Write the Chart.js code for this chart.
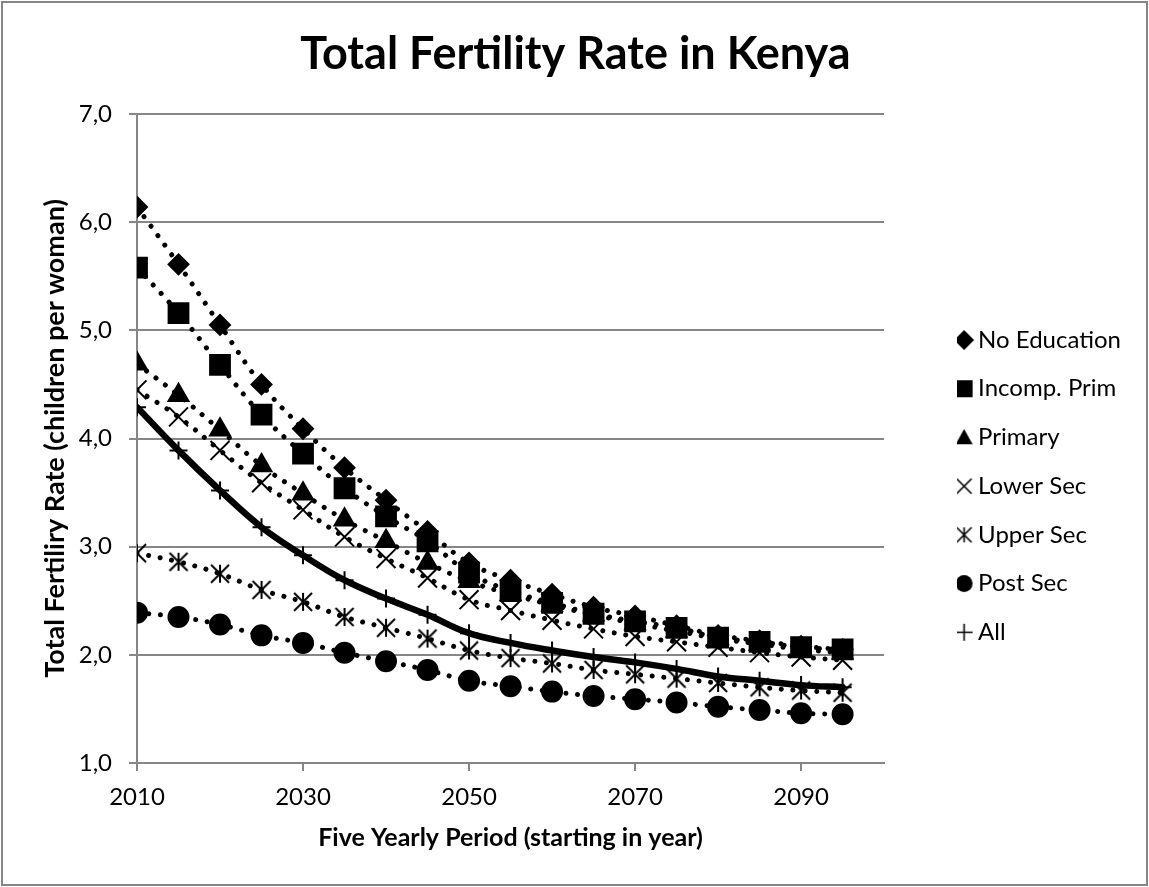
<!DOCTYPE html>
<html>
<head>
<meta charset="utf-8">
<title>Total Fertility Rate in Kenya</title>
<script src="https://cdn.jsdelivr.net/npm/chart.js@4.4.1/dist/chart.umd.min.js"></script>
<style>
  html, body { margin: 0; padding: 0; background: #fff; }
</style>
</head>
<body>
<canvas id="chart" width="1149" height="887"></canvas>
<script>
// values, one per five-year period
const years = [2010, 2015, 2020, 2025, 2030, 2035, 2040, 2045, 2050, 2055, 2060, 2065, 2070, 2075, 2080, 2085, 2090, 2095];
const noEducation = [6.14, 5.61, 5.05, 4.50, 4.09, 3.73, 3.43, 3.14, 2.85, 2.69, 2.56, 2.44, 2.36, 2.27, 2.18, 2.13, 2.08, 2.05];
const incompPrim = [5.58, 5.16, 4.68, 4.22, 3.86, 3.54, 3.28, 3.05, 2.76, 2.59, 2.48, 2.38, 2.31, 2.25, 2.16, 2.12, 2.07, 2.05];
const primary = [4.69, 4.40, 4.08, 3.75, 3.49, 3.25, 3.05, 2.85, 2.68, 2.56, 2.46, 2.37, 2.29, 2.22, 2.15, 2.10, 2.05, 2.02];
const lowerSec = [4.45, 4.20, 3.89, 3.59, 3.34, 3.09, 2.89, 2.71, 2.51, 2.41, 2.32, 2.24, 2.17, 2.12, 2.07, 2.02, 1.98, 1.95];
const upperSec = [2.94, 2.86, 2.75, 2.60, 2.49, 2.35, 2.25, 2.15, 2.04, 1.97, 1.92, 1.86, 1.82, 1.78, 1.74, 1.70, 1.67, 1.65];
const postSec = [2.39, 2.35, 2.28, 2.18, 2.11, 2.02, 1.94, 1.86, 1.76, 1.71, 1.66, 1.62, 1.59, 1.56, 1.52, 1.49, 1.46, 1.45];
const allWomen = [4.29, 3.89, 3.52, 3.18, 2.92, 2.69, 2.52, 2.37, 2.20, 2.11, 2.04, 1.98, 1.93, 1.87, 1.80, 1.76, 1.72, 1.70];

const xTicks = [2010, 2030, 2050, 2070, 2090];
const yTicks = [1, 2, 3, 4, 5, 6, 7];

const FONT = 'Lato';
const GREY = '#868686';

// small marker glyphs (asterisk + legend icons)
function marker(kind, size, lw) {
  const pad = 2;
  const c = document.createElement('canvas');
  c.width = c.height = Math.ceil(size + pad * 2);
  const g = c.getContext('2d');
  const m = c.width / 2, h = size / 2;
  g.fillStyle = g.strokeStyle = '#000';
  g.lineWidth = lw || 1.6;
  g.beginPath();
  if (kind === 'diamond') {
    g.moveTo(m, m - h); g.lineTo(m + h, m); g.lineTo(m, m + h); g.lineTo(m - h, m);
    g.closePath(); g.fill();
  } else if (kind === 'square') {
    g.fillRect(m - h, m - h, size, size);
  } else if (kind === 'triangle') {
    g.moveTo(m, m - h); g.lineTo(m + h, m + h * 0.8); g.lineTo(m - h, m + h * 0.8);
    g.closePath(); g.fill();
  } else if (kind === 'circle') {
    g.arc(m, m, h, 0, Math.PI * 2); g.fill();
  } else {
    if (kind === 'x' || kind === 'asterisk') {
      g.moveTo(m - h, m - h); g.lineTo(m + h, m + h);
      g.moveTo(m + h, m - h); g.lineTo(m - h, m + h);
    }
    if (kind === 'asterisk' || kind === 'plus') { g.moveTo(m, m - h); g.lineTo(m, m + h); }
    if (kind === 'plus') { g.moveTo(m - h, m); g.lineTo(m + h, m); }
    g.stroke();
  }
  return c;
}

function series(label, values, pointStyle, radius, legendIcon, solid) {
  return {
    label: label,
    data: years.map((yr, i) => ({ x: yr, y: values[i] })),
    borderColor: '#000',
    backgroundColor: '#000',
    borderWidth: solid ? 6.5 : 5,
    borderDash: solid ? [] : [0.01, 11.8],
    borderCapStyle: 'round',
    tension: 0.4,
    pointStyle: pointStyle,
    pointRadius: radius,
    pointBorderWidth: 2,
    legendIcon: legendIcon
  };
}

const datasets = [
  series('No Education', noEducation, 'rectRot', 10, marker('diamond', 20)),
  series('Incomp. Prim', incompPrim, 'rect', 14, marker('square', 17)),
  series('Primary', primary, 'triangle', 11.5, marker('triangle', 17)),
  series('Lower Sec', lowerSec, 'crossRot', 13.4, marker('x', 15)),
  series('Upper Sec', upperSec, marker('asterisk', 18, 2), 10, marker('asterisk', 15)),
  series('Post Sec', postSec, 'circle', 10, marker('circle', 17)),
  series('All', allWomen, 'cross', 9, marker('plus', 17), true)
];

const frame = {
  id: 'frame',
  beforeDraw(chart) {
    const { ctx, width, height } = chart;
    ctx.save();
    ctx.fillStyle = '#fff';
    ctx.fillRect(0, 0, width, height);
    ctx.strokeStyle = GREY;
    ctx.lineWidth = 2;
    ctx.strokeRect(2, 2, width - 4, height - 4);
    ctx.restore();
  }
};

new Chart(document.getElementById('chart'), {
  type: 'line',
  data: { datasets: datasets },
  plugins: [frame],
  options: {
    responsive: false,
    devicePixelRatio: 1,
    animation: false,
    layout: { padding: { left: 20, right: 18, top: 0, bottom: 0 } },
    plugins: {
      title: {
        display: true,
        text: 'Total Fertility Rate in Kenya',
        color: '#000',
        font: { family: FONT, size: 45, weight: 'bold' },
        padding: { top: 27, bottom: 33 }
      },
      legend: {
        position: 'right',
        title: { display: true, text: ' ', font: { size: 10 }, padding: { top: 0, bottom: 93 } },
        labels: {
          usePointStyle: true,
          boxWidth: 4,
          padding: 5,
          color: '#000',
          font: { family: FONT, size: 24, lineHeight: 1.821 },
          generateLabels(chart) {
            return Chart.defaults.plugins.legend.labels.generateLabels(chart).map(item => {
              item.pointStyle = chart.data.datasets[item.datasetIndex].legendIcon;
              item.text = [item.text];
              return item;
            });
          }
        }
      },
      tooltip: { enabled: false }
    },
    scales: {
      x: {
        type: 'linear',
        min: 2010,
        max: 2100,
        afterBuildTicks: s => { s.ticks = xTicks.map(v => ({ value: v })); },
        afterFit: s => { s.height = 124; },
        ticks: { color: '#000', font: { family: FONT, size: 24 }, padding: 12, callback: v => String(v) },
        grid: { drawOnChartArea: false, tickLength: 8, color: GREY, lineWidth: 2 },
        border: { color: GREY, width: 2 },
        title: {
          display: true,
          text: 'Five Yearly Period (starting in year)',
          color: '#000',
          font: { family: FONT, size: 25, weight: 'bold' },
          padding: { top: 0, bottom: 34 }
        }
      },
      y: {
        min: 1,
        max: 7,
        afterBuildTicks: s => { s.ticks = yTicks.map(v => ({ value: v })); },
        afterFit: s => { s.width = 117; },
        ticks: { color: '#000', font: { family: FONT, size: 24 }, padding: 17, callback: v => v.toFixed(1).replace('.', ',') },
        grid: { tickLength: 8, color: GREY, lineWidth: 2 },
        border: { color: GREY, width: 2 },
        title: {
          display: true,
          text: 'Total Fertiliry Rate (children per woman)',
          color: '#000',
          font: { family: FONT, size: 27, weight: 'bold' },
          padding: { top: 19, bottom: 0 }
        }
      },
      gap: {
        position: 'right',
        display: true,
        grid: { display: false },
        border: { display: false },
        ticks: { display: false },
        afterFit: s => { s.width = 73; }
      }
    }
  }
});
</script>
</body>
</html>
